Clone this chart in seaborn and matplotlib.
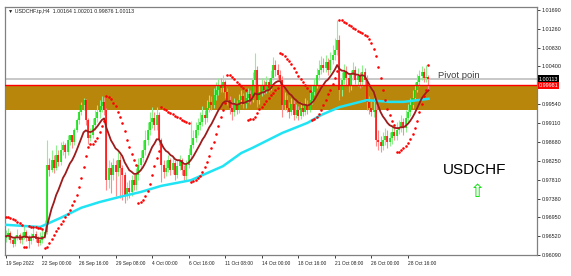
import numpy as np
import pandas as pd
import matplotlib
matplotlib.use("Agg")
import matplotlib.pyplot as plt
import matplotlib.transforms as mtrans
import seaborn as sns

# ---------------- data ----------------
first_open = 0.9648
closes = [
    .9652, .9659, .9643, .9634, .9648, .9655, .9643, .9652, .9662, .9648,
    .9641, .9650, .9657, .9646, .9636, .9643, .9652, .9662, .9815, .9803,
    .9826, .9808, .9838, .9822, .9849, .9860, .9844, .9872, .9883, .9867,
    .9895, .9918, .9936, .9952, .9963, .9918, .9876, .9883, .9906, .9922,
    .9936, .9950, .9959, .9941, .9780, .9808, .9792, .9815, .9799, .9826,
    .9808, .9792, .9746, .9762, .9753, .9780, .9769, .9792, .9815, .9831,
    .9849, .9872, .9895, .9913, .9922, .9906, .9929, .9872, .9815, .9799,
    .9808, .9826, .9803, .9819, .9792, .9812, .9826, .9803, .9790, .9815,
    .9838, .9860, .9876, .9895, .9906, .9913, .9929, .9922, .9945, .9959,
    .9952, .9975, .9986, .9998, .9991, 1.0005, .9982, .9963, .9945, .9936,
    .9952, .9941, .9963, .9973, .9954, .9968, .9977, .9963, 1.0009, 1.0032,
    .9963, .9982, .9998, .9986, 1.0005, .9991, 1.0014, 1.0043, 1.0032, 1.0021,
    1.0009, .9952, .9963, .9945, .9936, .9954, .9929, .9941, .9927, .9945,
    .9936, .9952, .9941, .9963, .9982, .9998, 1.0021, 1.0032, 1.0043, 1.0037,
    1.0050, 1.0032, 1.0055, 1.0066, 1.0078, 1.0101, .9986, 1.0009, 1.0027, 1.0014,
    .9998, 1.0021, 1.0032, 1.0009, 1.0018, 1.0005, 1.0027, 1.0009, .9959, .9945,
    .9936, .9941, .9872, .9867, .9858, .9872, .9881, .9867, .9876, .9890,
    .9881, .9895, .9899, .9913, .9899, .9922, .9936, .9952, .9968, .9986,
    1.0005, 1.0018, 1.0027, 1.0014, 1.0016, 1.00113,
]
highs = [
    .9666, .9671, .9664, .9648, .9655, .9668, .9659, .9662, .9675, .9666,
    .9655, .9659, .9671, .9664, .9652, .9662, .9666, .9689, .9872, .9831,
    .9849, .9838, .9860, .9849, .9868, .9870, .9866, .9883, .9883, .9883,
    .9899, .9922, .9941, .9958, .9968, .9966, .9922, .9899, .9922, .9941,
    .9952, .9963, .9973, .9970, .9945, .9826, .9822, .9831, .9826, .9844,
    .9838, .9815, .9799, .9776, .9780, .9792, .9794, .9808, .9831, .9849,
    .9872, .9895, .9913, .9936, .9947, .9936, .9947, .9936, .9876, .9826,
    .9826, .9838, .9831, .9833, .9826, .9826, .9838, .9831, .9815, .9826,
    .9854, .9915, .9895, .9913, .9922, .9936, .9950, .9941, .9963, .9975,
    .9973, .9991, 1.0005, 1.0014, 1.0014, 1.0021, 1.0009, .9991, .9973, .9959,
    .9968, .9963, .9977, .9986, .9979, .9982, .9991, .9986, 1.0027, 1.0071,
    1.0041, .9998, 1.0014, 1.0009, 1.0018, 1.0014, 1.0032, 1.0062, 1.0055, 1.0046,
    1.0032, 1.0018, .9982, .9975, .9959, .9968, .9963, .9954, .9950, .9959,
    .9954, .9968, .9963, .9982, .9998, 1.0014, 1.0037, 1.0055, 1.0064, 1.0059,
    1.0066, 1.0059, 1.0073, 1.0089, 1.0105, 1.0146, 1.0112, 1.0027, 1.0046, 1.0041,
    1.0023, 1.0032, 1.0050, 1.0041, 1.0037, 1.0027, 1.0043, 1.0037, 1.0021, .9973,
    .9963, .9968, .9954, .9895, .9881, .9890, .9899, .9895, .9890, .9906,
    .9904, .9913, .9918, .9929, .9922, .9941, .9954, .9968, .9986, 1.0005,
    1.0023, 1.0032, 1.0041, 1.0037, 1.0043, 1.00201,
]
lows = [
    .9639, .9646, .9636, .9627, .9630, .9643, .9636, .9634, .9646, .9641,
    .9625, .9634, .9643, .9639, .9630, .9632, .9636, .9648, .9657, .9790,
    .9799, .9796, .9803, .9812, .9815, .9838, .9831, .9838, .9860, .9854,
    .9860, .9890, .9909, .9929, .9941, .9906, .9862, .9869, .9876, .9895,
    .9913, .9922, .9936, .9929, .9758, .9762, .9750, .9780, .9745, .9790,
    .9740, .9735, .9728, .9735, .9739, .9744, .9758, .9758, .9780, .9803,
    .9822, .9838, .9860, .9883, .9899, .9895, .9895, .9860, .9776, .9785,
    .9790, .9799, .9792, .9794, .9780, .9785, .9803, .9792, .9781, .9780,
    .9808, .9831, .9854, .9867, .9883, .9895, .9904, .9909, .9913, .9936,
    .9941, .9945, .9963, .9975, .9982, .9982, .9968, .9952, .9931, .9918,
    .9927, .9931, .9934, .9954, .9945, .9945, .9959, .9954, .9959, 1.0000,
    .9947, .9954, .9973, .9977, .9979, .9982, .9986, 1.0009, 1.0018, 1.0009,
    .9995, .9925, .9941, .9936, .9922, .9929, .9918, .9922, .9918, .9920,
    .9927, .9929, .9931, .9936, .9954, .9975, .9991, 1.0009, 1.0023, 1.0027,
    1.0027, 1.0021, 1.0025, 1.0046, 1.0055, 1.0066, .9963, .9973, 1.0000, .9998,
    .9982, .9986, 1.0009, 1.0000, .9995, .9991, .9995, .9998, .9941, .9931,
    .9927, .9925, .9858, .9849, .9844, .9849, .9860, .9854, .9858, .9863,
    .9872, .9872, .9886, .9890, .9883, .9890, .9913, .9927, .9945, .9963,
    .9982, .9995, 1.0009, 1.0005, 1.0005, .99876,
]

# slow moving average (cyan), read at these bars
slow_ma_bars = [0, 9, 15, 24, 33, 41, 50, 59, 68, 77, 81, 88, 95, 103, 108,
                121, 132, 138, 146, 158, 168, 174, 185]
slow_ma_vals = [.9678, .9675, .9673, .9694, .9717, .9730, .9742, .9753, .9767,
                .9776, .9780, .9796, .9812, .9842, .9854, .9888, .9911, .9929,
                .9947, .9963, .9959, .9959, .9966]

sar_start = 0.9697          # SAR level above price at the first bar
zone_low, zone_high = 0.99404, 0.99981
pivot_level = 1.00120
bid_price = 1.00113

x_tick_bars = [0, 16, 32, 48, 64, 80, 96, 112, 128, 144, 160, 176]
x_tick_labels = ["19 Sep 2022", "22 Sep 00:00", "26 Sep 16:00", "29 Sep 08:00",
                 "4 Oct 00:00", "6 Oct 16:00", "11 Oct 08:00", "14 Oct 00:00",
                 "18 Oct 16:00", "21 Oct 08:00", "26 Oct 00:00", "28 Oct 16:00"]
y_ticks = [0.96090, 0.96520, 0.96950, 0.97380, 0.97810, 0.98250, 0.98680,
           0.99110, 0.99540, 1.00400, 1.00830, 1.01260, 1.01690]

title = "\u25BC USDCHF.tp,H4  1.00164 1.00201 0.99876 1.00113"

# ---------------- derived series ----------------
c = np.array(closes)
o = np.array([first_open] + closes[:-1])
h = np.maximum(np.array(highs), np.maximum(o, c))
l = np.minimum(np.array(lows), np.minimum(o, c))
n = len(c)
bars = np.arange(n)
df = pd.DataFrame({"bar": bars, "open": o, "high": h, "low": l, "close": c})
df["fast"] = df["close"].ewm(span=12, adjust=False).mean()


def parabolic_sar(high, low, start, step=0.02, amax=0.2):
    sar = np.zeros(len(high))
    up = False
    af = step
    ep = low[0]
    sar[0] = start
    for i in range(1, len(high)):
        s = sar[i - 1] + af * (ep - sar[i - 1])
        if up:
            s = min(s, low[i - 1], low[max(i - 2, 0)])
            if low[i] < s:
                up, s, ep, af = False, ep, low[i], step
            elif high[i] > ep:
                ep, af = high[i], min(af + step, amax)
        else:
            s = max(s, high[i - 1], high[max(i - 2, 0)])
            if high[i] > s:
                up, s, ep, af = True, ep, high[i], step
            elif low[i] < ep:
                ep, af = low[i], min(af + step, amax)
        sar[i] = s
    return sar


df["sar"] = parabolic_sar(h, l, sar_start)
slow = pd.DataFrame({"bar": slow_ma_bars, "val": slow_ma_vals})

# ---------------- figure ----------------
W, H = 571, 276
SMALL = ["Liberation Sans", "DejaVu Sans"]
fig = plt.figure(figsize=(W / 100, H / 100), dpi=100)
fig.patch.set_facecolor("white")
ax = fig.add_axes([5 / W, 21 / H, 532 / W, 248 / H])
ax.set_xlim(-0.4, 232.5)
ax.set_ylim(0.96090, 1.01759)

# zone and levels
ax.axhspan(zone_low, zone_high, color="#B8860B", zorder=0, lw=0)
ax.axhline(pivot_level, color="#C8C8C8", lw=1.4, zorder=1)
ax.axhline(zone_high, color="#FF0000", lw=1.0, zorder=4)

# candles
up = df["close"] >= df["open"]
col = np.where(up, "#00E000", "#FF0000")
wick = np.where(up, "#90F090", "#FF8C8C")
ax.vlines(df["bar"], df["low"], df["high"], colors=wick, lw=0.8, zorder=2)
body_lo = np.minimum(df["open"], df["close"])
body_hi = np.maximum(df["open"], df["close"])
ax.vlines(df["bar"], body_lo, body_hi + 0.00005, colors=col, lw=1.1, zorder=2)

# indicators
sns.lineplot(data=slow, x="bar", y="val", ax=ax, color="#20E4F4", lw=1.8,
             zorder=3, legend=False)
sns.lineplot(data=df, x="bar", y="fast", ax=ax, color="#9E1B1B", lw=1.3,
             zorder=3, legend=False)
sns.scatterplot(data=df, x="bar", y="sar", ax=ax, color="#FF0000", s=3.5,
                linewidth=0, zorder=5, legend=False)

# texts
ax.text(189, 1.0009, "Pivot poin", fontsize=6.8, color="#404040",
        family=SMALL, ha="left", va="bottom", zorder=6)
ax.text(191.5, 0.9794, "USDCHF", fontsize=11, color="black",
        family=SMALL, ha="left", va="baseline", zorder=6)
ax.text(206.3, 0.9754, "\u21E7", fontsize=13, color="#00E000",
        family="DejaVu Sans", ha="center", va="center", zorder=6)

# axes styling
ax.set_xlabel("")
ax.set_ylabel("")
for s in ax.spines.values():
    s.set_color("#808080")
    s.set_linewidth(0.9)
ax.yaxis.tick_right()
ax.set_yticks(y_ticks)
ax.set_yticklabels([f"{v:.5f}" for v in y_ticks], family=SMALL)
ax.tick_params(axis="y", labelsize=3.9, length=2, width=0.6, pad=1.5,
               colors="#202020")
ax.set_xticks(x_tick_bars)
ax.set_xticklabels(x_tick_labels, ha="left", family=SMALL)
ax.tick_params(axis="x", labelsize=3.5, length=2.5, width=0.6, pad=1.5,
               colors="#202020")
for lbl in ax.get_xticklabels():
    lbl.set_horizontalalignment("left")

trans = mtrans.blended_transform_factory(ax.transAxes, ax.transData)
ax.text(1.003, bid_price, f"{bid_price:.5f}", transform=trans, fontsize=3.9,
        family=SMALL, color="white", ha="left", va="center", zorder=7,
        clip_on=False,
        bbox=dict(boxstyle="square,pad=0.2", fc="black", ec="none"))
ax.text(1.003, zone_high - 0.00018, f"{zone_high:.5f}", transform=trans,
        fontsize=3.9, family=SMALL, color="white", ha="left", va="center",
        zorder=7, clip_on=False,
        bbox=dict(boxstyle="square,pad=0.2", fc="#FF0000", ec="none"))

fig.text(8 / W, 1 - 12 / H, title, fontsize=3.8, family=SMALL,
         color="#202020", ha="left", va="center")

fig.savefig("out.png", dpi=100, facecolor="white")
